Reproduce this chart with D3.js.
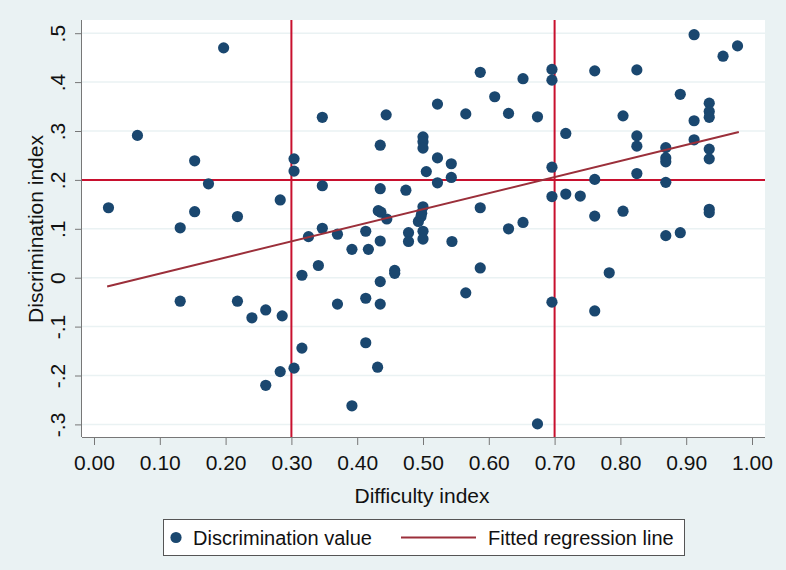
<!DOCTYPE html>
<html>
<head>
<meta charset="utf-8">
<script src="https://cdn.jsdelivr.net/npm/d3@7"></script>
<style>
  body { margin: 0; background: #eaf2f3; }
  text { font-family: "Liberation Sans", Arial, sans-serif; fill: #111; }
</style>
</head>
<body>
<svg id="chart"></svg>
<script>
// item difficulty (x) and discrimination (y)
const difficulty = [
  0.022, 0.066, 0.131, 0.131, 0.153, 0.153, 0.174, 0.197, 0.218, 0.218,
  0.240, 0.261, 0.261, 0.283, 0.286, 0.283, 0.304, 0.304, 0.304, 0.316,
  0.316, 0.326, 0.341, 0.347, 0.347, 0.347, 0.370, 0.370, 0.392, 0.392,
  0.413, 0.417, 0.413, 0.413, 0.431, 0.435, 0.444, 0.435, 0.432, 0.436,
  0.445, 0.435, 0.435, 0.435, 0.457, 0.457, 0.474, 0.478, 0.478, 0.493,
  0.497, 0.498, 0.500, 0.500, 0.500, 0.500, 0.500, 0.500, 0.505, 0.522,
  0.522, 0.522, 0.543, 0.543, 0.544, 0.565, 0.565, 0.587, 0.587, 0.587,
  0.609, 0.630, 0.630, 0.652, 0.652, 0.674, 0.674, 0.696, 0.696, 0.696,
  0.696, 0.696, 0.717, 0.717, 0.739, 0.761, 0.761, 0.761, 0.761, 0.783,
  0.804, 0.804, 0.825, 0.825, 0.825, 0.825, 0.869, 0.869, 0.869, 0.869,
  0.869, 0.891, 0.891, 0.912, 0.912, 0.912, 0.935, 0.935, 0.935, 0.935,
  0.935, 0.935, 0.935, 0.956, 0.978
];
const discrimination = [
  0.143, 0.291, 0.102, -0.048, 0.239, 0.135, 0.192, 0.470, 0.125, -0.048,
  -0.082, -0.066, -0.220, 0.159, -0.078, -0.192, 0.243, 0.218, -0.185, 0.005,
  -0.144, 0.084, 0.025, 0.328, 0.188, 0.101, 0.089, -0.054, 0.058, -0.262,
  0.095, 0.058, -0.042, -0.133, -0.183, 0.271, 0.333, 0.182, 0.137, 0.134,
  0.120, 0.075, -0.008, -0.054, 0.015, 0.009, 0.179, 0.092, 0.074, 0.115,
  0.125, 0.132, 0.145, 0.095, 0.079, 0.288, 0.278, 0.265, 0.217, 0.355,
  0.245, 0.194, 0.233, 0.205, 0.074, 0.335, -0.031, 0.420, 0.143, 0.020,
  0.370, 0.336, 0.100, 0.407, 0.113, 0.329, -0.299, 0.426, 0.404, 0.226,
  0.166, -0.050, 0.295, 0.171, 0.167, 0.423, 0.201, 0.126, -0.068, 0.010,
  0.331, 0.136, 0.425, 0.290, 0.269, 0.213, 0.266, 0.245, 0.237, 0.195,
  0.086, 0.375, 0.092, 0.497, 0.321, 0.282, 0.357, 0.340, 0.328, 0.263,
  0.243, 0.140, 0.133, 0.453, 0.474
];

// fitted regression line end points
const fitX = [0.02, 0.98];
const fitY = [-0.018, 0.298];

// cut-off reference lines
const refX = [0.3, 0.7];
const refY = [0.2];

const xTicks = [0, 0.1, 0.2, 0.3, 0.4, 0.5, 0.6, 0.7, 0.8, 0.9, 1.0];
const yTicks = [-0.3, -0.2, -0.1, 0, 0.1, 0.2, 0.3, 0.4, 0.5];
const yTickLabels = ['-.3', '-.2', '-.1', '0', '.1', '.2', '.3', '.4', '.5'];

const WIDTH = 786, HEIGHT = 570;
const PLOT = { left: 82, right: 765, top: 20, bottom: 437 };

const svg = d3.select('#chart').attr('width', WIDTH).attr('height', HEIGHT);

svg.append('rect').attr('width', WIDTH).attr('height', HEIGHT).attr('fill', '#eaf2f3');

const xScale = d3.scaleLinear().domain([0, 1]).range([94, 752]);
const yScale = d3.scaleLinear().domain([-0.3, 0.5]).range([424.4, 33.2]);

// plot region
svg.append('rect')
  .attr('x', PLOT.left).attr('y', PLOT.top)
  .attr('width', PLOT.right - PLOT.left).attr('height', PLOT.bottom - PLOT.top)
  .attr('fill', '#fff');

// horizontal grid
svg.append('g').selectAll('line').data(yTicks).join('line')
  .attr('x1', PLOT.left).attr('x2', PLOT.right)
  .attr('y1', d => yScale(d)).attr('y2', d => yScale(d))
  .attr('stroke', '#eaf2f3').attr('stroke-width', 1.5);

// axes
const xAxis = d3.axisBottom(xScale).tickValues(xTicks).tickFormat(d3.format('.2f'))
  .tickSize(8).tickPadding(6);
const xg = svg.append('g').attr('transform', `translate(0,${PLOT.bottom})`).call(xAxis);
xg.select('.domain').attr('d', `M${PLOT.left},0.5H${PLOT.right}`).attr('stroke', '#777');
xg.selectAll('.tick line').attr('stroke', '#777');
xg.selectAll('.tick text').attr('font-size', 21).attr('fill', '#111')
  .attr('font-family', '"Liberation Sans", Arial, sans-serif').attr('dy', '0.9em');

const yAxis = d3.axisLeft(yScale).tickValues(yTicks).tickFormat((d, i) => yTickLabels[i])
  .tickSize(7);
const yg = svg.append('g').attr('transform', `translate(${PLOT.left},0)`).call(yAxis);
yg.select('.domain').attr('d', `M-0.5,${PLOT.top}V${PLOT.bottom}`).attr('stroke', '#777');
yg.selectAll('.tick line').attr('stroke', '#777');
yg.selectAll('.tick text')
  .attr('font-size', 21).attr('fill', '#111')
  .attr('font-family', '"Liberation Sans", Arial, sans-serif')
  .attr('text-anchor', 'middle').attr('x', null).attr('dy', null)
  .attr('transform', 'translate(-17,0) rotate(-90)');

// reference lines
svg.append('g').selectAll('line').data(refX).join('line')
  .attr('x1', d => xScale(d)).attr('x2', d => xScale(d))
  .attr('y1', PLOT.top).attr('y2', PLOT.bottom)
  .attr('stroke', '#c8102e').attr('stroke-width', 2);
svg.append('g').selectAll('line').data(refY).join('line')
  .attr('x1', PLOT.left).attr('x2', PLOT.right)
  .attr('y1', d => yScale(d)).attr('y2', d => yScale(d))
  .attr('stroke', '#c8102e').attr('stroke-width', 2);

// points
svg.append('g').selectAll('circle').data(difficulty).join('circle')
  .attr('cx', d => xScale(d))
  .attr('cy', (d, i) => yScale(discrimination[i]))
  .attr('r', 5.6)
  .attr('fill', '#1a476f');

// regression line
const line = d3.line().x(d => xScale(d[0])).y(d => yScale(d[1]));
svg.append('path')
  .datum(fitX.map((x, i) => [x, fitY[i]]))
  .attr('d', line)
  .attr('fill', 'none').attr('stroke', '#9b2f3a').attr('stroke-width', 2);

// axis titles
svg.append('text').attr('x', 422).attr('y', 503)
  .attr('text-anchor', 'middle').attr('font-size', 21).text('Difficulty index');
svg.append('text').attr('transform', 'translate(43,229) rotate(-90)')
  .attr('text-anchor', 'middle').attr('font-size', 21).text('Discrimination index');

// legend
const lg = svg.append('g');
lg.append('rect').attr('x', 163.5).attr('y', 519.5).attr('width', 521).attr('height', 36)
  .attr('fill', '#fff').attr('stroke', '#555').attr('stroke-width', 1);
lg.append('circle').attr('cx', 176).attr('cy', 537.5).attr('r', 5.6).attr('fill', '#1a476f');
lg.append('text').attr('x', 193).attr('y', 545).attr('font-size', 20).text('Discrimination value');
lg.append('line').attr('x1', 401).attr('x2', 476).attr('y1', 537.5).attr('y2', 537.5)
  .attr('stroke', '#9b2f3a').attr('stroke-width', 2);
lg.append('text').attr('x', 488).attr('y', 545).attr('font-size', 20).text('Fitted regression line');
</script>
</body>
</html>
